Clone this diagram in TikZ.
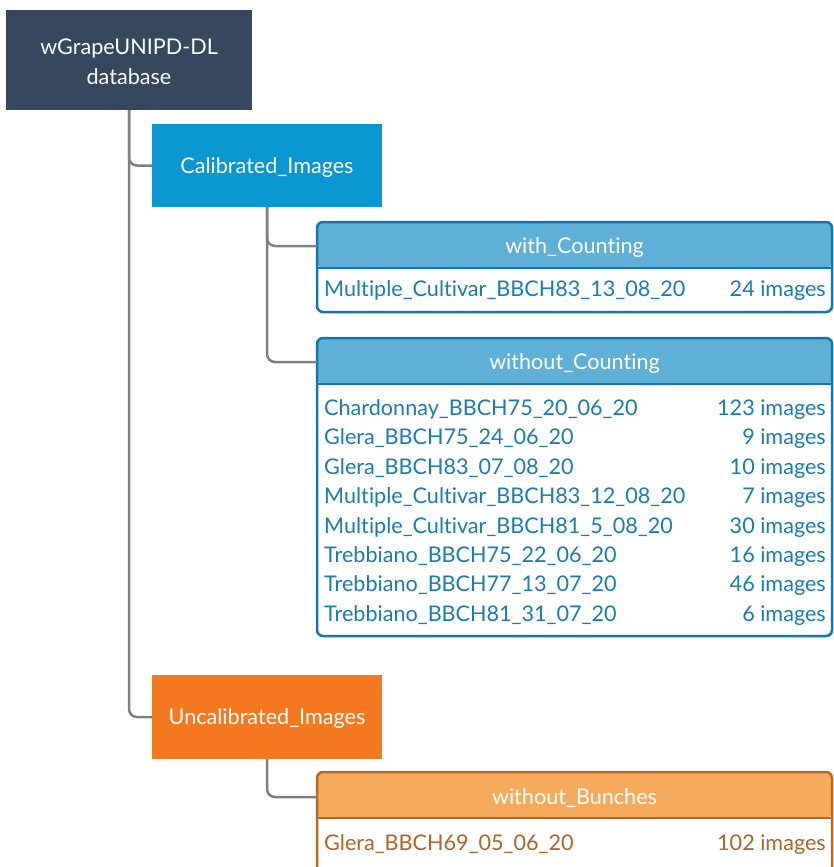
\documentclass[tikz,border=0pt]{standalone}
\usepackage{fontspec}
\setmainfont[Ligatures=NoCommon]{Lato}
\usetikzlibrary{positioning}
\definecolor{rootnavy}{RGB}{54,71,94}
\definecolor{calblue}{RGB}{10,150,208}
\definecolor{headblue}{RGB}{94,176,214}
\definecolor{lineblue}{RGB}{20,118,170}
\definecolor{textblue}{RGB}{25,125,180}
\definecolor{uncalorange}{RGB}{244,121,32}
\definecolor{headorange}{RGB}{245,170,92}
\definecolor{lineorange}{RGB}{180,105,40}
\definecolor{textorange}{RGB}{175,100,40}
\definecolor{linkgray}{RGB}{128,128,128}
\tikzset{
  topbox/.style={fill=#1, text=white, minimum width=230pt, minimum height=83pt, inner sep=0pt, align=center},
  tabbox/.style 2 args={draw=#1, fill=white, line width=2.5pt, rounded corners=6pt, minimum width=515pt, inner sep=0pt,
    path picture={
      \fill[#2] (path picture bounding box.north west) rectangle ([yshift=-46pt]path picture bounding box.north east);
      \draw[#1, line width=2.5pt] ([yshift=-46pt]path picture bounding box.north west) -- ([yshift=-46pt]path picture bounding box.north east);
    }},
  headtext/.style={text=white, minimum width=515pt, inner sep=0pt, text height=15pt, text depth=0pt},
  rowtext/.style={text=#1, inner sep=0pt},
  link/.style={draw=linkgray, line width=2.5pt, rounded corners=8pt}
}
\begin{document}
\begin{tikzpicture}[x=1pt, y=-1pt, font=\fontsize{21.6}{30}\selectfont]
  \useasboundingbox (0,0) rectangle (834,867);
  % top level boxes
  \node[topbox=rootnavy, minimum width=246pt, minimum height=100pt] (root) at (129,60) {\rule{0pt}{19pt}wGrapeUNIPD-DL\\database};
  \node[topbox=calblue, text height=15pt, text depth=0pt] (cal) at (267,165.5) {Calibrated\_Images};
  \node[topbox=uncalorange, minimum height=84pt, text height=15pt, text depth=0pt] (uncal) at (267,717) {Uncalibrated\_Images};

  % tables
  \node[tabbox={lineblue}{headblue}, minimum height=90pt] (withc) at (574.5,267) {};
  \node[headtext] (withch) at (574.5,246) {with\_Counting};
  \node[rowtext=textblue, anchor=base west] (withcl) at (324,296.5) {Multiple\_Cultivar\_BBCH83\_13\_08\_20};
  \node[rowtext=textblue, anchor=base east] (withcn) at (826,296.5) {24 images};

  \node[tabbox={lineblue}{headblue}, minimum height=298pt] (woc) at (574.5,487) {};
  \node[headtext] (woch) at (574.5,362) {without\_Counting};
  \foreach \lbl/\num [count=\i from 0] in {Chardonnay\_BBCH75\_20\_06\_20/123, Glera\_BBCH75\_24\_06\_20/9,
      Glera\_BBCH83\_07\_08\_20/10, Multiple\_Cultivar\_BBCH83\_12\_08\_20/7, Multiple\_Cultivar\_BBCH81\_5\_08\_20/30,
      Trebbiano\_BBCH75\_22\_06\_20/16, Trebbiano\_BBCH77\_13\_07\_20/46, Trebbiano\_BBCH81\_31\_07\_20/6}{
    \node[rowtext=textblue, anchor=base west] (wocl\i) at (324,{415.5+29.4*\i}) {\lbl};
    \node[rowtext=textblue, anchor=base east] (wocn\i) at (826,{415.5+29.4*\i}) {\num{} images};
  }

  \node[tabbox={lineorange}{headorange}, minimum height=120pt] (wob) at (574.5,832) {};
  \node[headtext] (wobh) at (574.5,797) {without\_Bunches};
  \node[rowtext=textorange, anchor=base west] (wobl) at (324,850.5) {Glera\_BBCH69\_05\_06\_20};
  \node[rowtext=textorange, anchor=base east] (wobn) at (826,850.5) {102 images};

  % connectors
  \draw[link] (root.south) |- (cal.west);
  \draw[link] (root.south) |- (uncal.west);
  \draw[link] (cal.south) |- (withch.west);
  \draw[link] (cal.south) |- (woch.west);
  \draw[link] (uncal.south) |- (wobh.west);
\end{tikzpicture}
\end{document}
